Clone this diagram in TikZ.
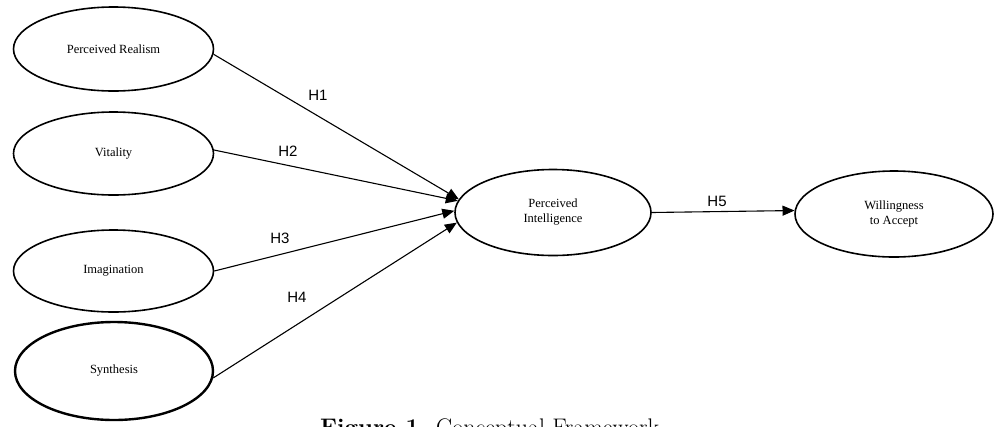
\documentclass[tikz,border=0pt]{standalone}
\usepackage{fontspec}
\setmainfont{Liberation Serif}
\newfontfamily\hsans{Liberation Sans}
\newfontfamily\capfont{Latin Modern Roman}
\usetikzlibrary{shapes.geometric,arrows.meta}
\tikzset{
  construct/.style={ellipse, draw, line width=1.6pt, inner sep=0pt,
    minimum width=200pt, minimum height=84pt,
    font=\fontsize{12.5}{15}\selectfont, align=center},
  path/.style={line width=1.1pt, -{Triangle[length=12pt,width=10pt]}},
  hlab/.style={font=\hsans\fontsize{15}{18}\selectfont, inner sep=0pt},
}
\begin{document}
\begin{tikzpicture}[x=1pt,y=-1pt]
\useasboundingbox (0,0) rectangle (996,426);
\clip (0,0) rectangle (996,426);
\fill[white] (0,0) rectangle (996,426);
\node[construct] (pr) at (113.5,49) {Perceived Realism};
\node[construct, minimum height=83pt] (vi) at (113.5,153.5) {Vitality};
\node[construct, minimum height=82pt] (im) at (113.5,271) {Imagination};
\node[construct, line width=2.4pt, minimum height=98pt, minimum width=198pt] (sy) at (114,371) {Synthesis};
\node[construct, minimum width=196pt, minimum height=86pt] (pi) at (553,212.5) {Perceived\\Intelligence};
\node[construct, minimum width=198pt, minimum height=86pt] (wa) at (894,214) {Willingness\\to Accept};

\draw[path] (pr.-3) -- (pi.172);
\draw[path] (vi.2) -- (pi.173);
\draw[path] (im.east) -- (pi.179);
\draw[path] (sy.-4) -- (pi.186.5);
\draw[path] (pi.east) -- (wa.178.5);

\node[hlab] (h1) at (318,95) {H1};
\node[hlab] (h2) at (288,151) {H2};
\node[hlab] (h3) at (280,238) {H3};
\node[hlab] (h4) at (297,297) {H4};
\node[hlab] (h5) at (717,201) {H5};

\node[anchor=base west, inner sep=0pt, font=\capfont\fontsize{24}{28}\selectfont] (cap) at (320,435) {\textbf{Figure 1.} Conceptual Framework};
\end{tikzpicture}
\end{document}
